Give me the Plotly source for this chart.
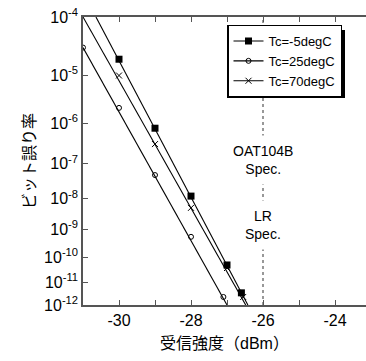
import numpy as np
import plotly.graph_objects as go

# ---- data ----
series_names = ["Tc=-5degC", "Tc=25degC", "Tc=70degC"]
# measured points (received power dBm, BER)
m5_x = [-30.0, -29.0, -28.0, -27.0, -26.6]
m5_ber = [2.0e-5, 7.7e-7, 1.2e-8, 5.0e-11, 3.5e-12]
p25_x = [-31.0, -30.0, -29.0, -28.0, -27.1]
p25_ber = [3.2e-5, 2.2e-6, 4.9e-8, 5.6e-10, 2.3e-12]
p70_x = [-30.0, -29.0, -28.0, -27.0, -26.55]
p70_ber = [1.0e-5, 3.2e-7, 5.2e-9, 3.8e-11, 2.3e-12]
# fitted lines (end points)
m5_fit_x = [-30.64, -26.42]
m5_fit_ber = [1e-4, 1e-12]
p25_fit_x = [-31.0, -27.0]
p25_fit_ber = [3.2e-5, 1e-12]
p70_fit_x = [-31.0, -26.48]
p70_fit_ber = [1e-4, 1e-12]

spec_x = -26.0
exps = [4, 5, 6, 7, 8, 9, 10, 11, 12]
x_ticks = [-30, -29, -28, -27, -26, -25, -24]
x_labels = ["-30", "", "-28", "", "-26", "", "-24"]

def q(ber):
    return -np.log10(np.array(ber))

FONT = "Liberation Sans, Arial, Noto Sans CJK JP"
fig = go.Figure()

fits = [(m5_fit_x, m5_fit_ber), (p25_fit_x, p25_fit_ber), (p70_fit_x, p70_fit_ber)]
pts = [(m5_x, m5_ber), (p25_x, p25_ber), (p70_x, p70_ber)]
markers = [
    dict(symbol="square", size=7, color="black", line=dict(color="black", width=0)),
    dict(symbol="circle-open", size=5, color="black", line=dict(color="black", width=1)),
    dict(symbol="x-thin-open", size=6, color="black", line=dict(color="black", width=1)),
]

for (fx, fb), (px, pb), mk, name in zip(fits, pts, markers, series_names):
    fig.add_trace(go.Scatter(x=fx, y=q(fb), mode="lines", line=dict(color="black", width=1.1),
                             showlegend=False, hoverinfo="skip"))
    fig.add_trace(go.Scatter(x=px, y=q(pb), mode="markers", marker=mk, showlegend=False))
    fig.add_trace(go.Scatter(x=[None], y=[None], mode="lines+markers", name=name,
                             marker=mk, line=dict(color="black", width=1.1)))

fig.add_shape(type="line", x0=spec_x, x1=spec_x, xref="x", yref="paper", y0=0, y1=1,
              line=dict(color="#777", width=1.5, dash="dot"), layer="below")

# legend shadow
leg_cy = 61
leg_h = 68
fig.add_shape(type="rect", xref="paper", yref="paper",
              x0=(229 - 83) / 283, x1=(345 - 83) / 283,
              y0=1 - (leg_cy + leg_h / 2 + 3 - 17) / 288, y1=1 - (leg_cy - leg_h / 2 + 3 - 17) / 288,
              fillcolor="black", line=dict(width=0), layer="above")

fig.add_annotation(x=spec_x, xref="x", yref="paper", y=1 - (160 - 17) / 288, yanchor="middle",
                   text="OAT104B<br>Spec.", showarrow=False, bgcolor="white",
                   font=dict(family=FONT, size=14, color="black"), borderpad=7)
fig.add_annotation(x=spec_x, xref="x", yref="paper", y=1 - (225 - 17) / 288, yanchor="middle",
                   text="LR<br>Spec.", showarrow=False, bgcolor="white",
                   font=dict(family=FONT, size=14, color="black"), borderpad=7)

fig.update_layout(
    width=366, height=361,
    margin=dict(l=83, r=0, t=17, b=56),
    paper_bgcolor="white", plot_bgcolor="white",
    font=dict(family=FONT, size=15, color="black"),
    showlegend=True,
    legend=dict(x=(342 - 83) / 283, xanchor="right", y=1 - (leg_cy - 17) / 288, yanchor="middle",
                bgcolor="white", bordercolor="black", borderwidth=1.5,
                font=dict(family=FONT, size=13, color="black"), tracegroupgap=0),
)
fig.update_xaxes(range=[-31, -31 + 283 / 36], tickvals=x_ticks, ticktext=x_labels,
                 ticks="inside", ticklen=5, tickcolor="#555", showline=True, linecolor="#555",
                 linewidth=1.5, mirror="ticks", showgrid=False, zeroline=False,
                 tickfont=dict(size=16),
                 title=dict(text="受信強度（dBm）", standoff=10, font=dict(size=16)))
fig.update_yaxes(type="log", range=[np.log10(12), np.log10(4)],
                 tickvals=exps, ticktext=[f"10<sup>-{e}</sup>" for e in exps],
                 ticks="inside", ticklen=5, tickcolor="#555", showline=True, linecolor="#555",
                 linewidth=1.5, mirror=False, showgrid=False, zeroline=False,
                 tickfont=dict(size=16),
                 title=dict(text="ビット誤り率", standoff=4, font=dict(size=16)))

fig.write_html("out.html")
